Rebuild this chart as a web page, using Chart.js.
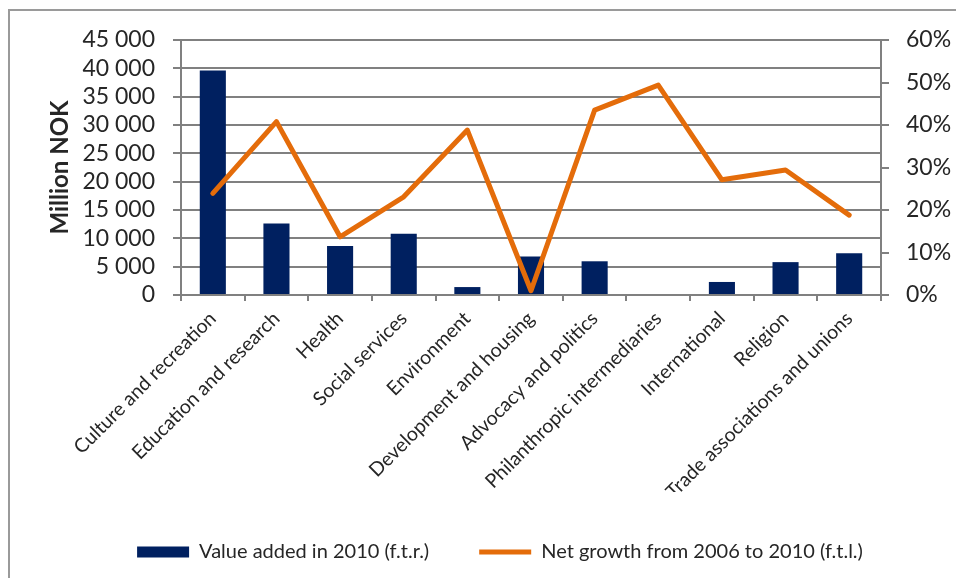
<!DOCTYPE html>
<html>
<head>
<meta charset="utf-8">
<script src="https://cdn.jsdelivr.net/npm/chart.js@4"></script>
<style>
  html, body { margin: 0; padding: 0; background: #ffffff; overflow: hidden; }
  #wrap { position: relative; width: 956px; height: 578px; }
  #frame { position: absolute; left: 8px; top: 9px; width: 1200px; height: 800px; border: 2px solid #9a9a9a; box-sizing: border-box; }
  canvas { position: absolute; left: 0; top: 0; }
</style>
</head>
<body>
<div id="wrap">
  <div id="frame"></div>
  <canvas id="c" width="956" height="578"></canvas>
</div>
<script>
const categories = [
  'Culture and recreation', 'Education and research', 'Health', 'Social services',
  'Environment', 'Development and housing', 'Advocacy and politics',
  'Philanthropic intermediaries', 'International', 'Religion', 'Trade associations and unions'
];
const valueAdded2010 = [39600, 12600, 8650, 10800, 1400, 6800, 5950, 0, 2300, 5800, 7350];
const netGrowthPct = [23.9, 40.8, 13.7, 23.1, 38.8, 1.0, 43.5, 49.4, 27.1, 29.4, 18.8];
const leftMax = 45000, leftStep = 5000;
const rightMax = 60, rightStep = 10;
const seriesNames = ['Value added in 2010 (f.t.r.)', 'Net growth from 2006 to 2010 (f.t.l.)'];
const axisTitle = 'Million NOK';

const NAVY = '#002060';
const ORANGE = '#E46C0A';
const GRID = '#808080';
const TEXT = '#262626';
const FONT = 'Lato, "Open Sans", sans-serif';

function fmtThousands(v) {
  return String(v).replace(/\B(?=(\d{3})+(?!\d))/g, ' ');
}

// Horizontal gridlines at the left axis tick values, drawn beneath the datasets
const gridPlugin = {
  id: 'hgrid',
  beforeDatasetsDraw(chart) {
    const ys = chart.scales.y;
    const area = chart.chartArea;
    const ctx = chart.ctx;
    ctx.save();
    ctx.fillStyle = GRID;
    for (let v = 0; v <= leftMax; v += leftStep) {
      const py = Math.round(ys.getPixelForValue(v));
      ctx.fillRect(area.left, py - 1, area.right - area.left, 2);
    }
    ctx.restore();
  }
};

new Chart(document.getElementById('c'), {
  data: {
    labels: categories,
    datasets: [
      {
        type: 'bar',
        label: seriesNames[0],
        data: valueAdded2010,
        yAxisID: 'y',
        backgroundColor: NAVY,
        borderWidth: 0,
        barPercentage: 0.41,
        categoryPercentage: 1.0,
        pointStyle: 'rect',
        order: 1
      },
      {
        type: 'line',
        label: seriesNames[1],
        data: netGrowthPct,
        yAxisID: 'y1',
        borderColor: ORANGE,
        backgroundColor: ORANGE,
        borderWidth: 5,
        pointRadius: 0,
        pointHoverRadius: 0,
        tension: 0,
        fill: false,
        borderCapStyle: 'round',
        borderJoinStyle: 'round',
        pointStyle: 'line',
        order: 0
      }
    ]
  },
  plugins: [gridPlugin],
  options: {
    responsive: false,
    animation: false,
    events: [],
    layout: { padding: { top: 40, left: 44, right: 0, bottom: 6 } },
    plugins: {
      tooltip: { enabled: false },
      legend: {
        position: 'bottom',
        labels: {
          usePointStyle: true,
          pointStyleWidth: 52,
          boxHeight: 11,
          padding: 50,
          color: TEXT,
          font: { family: FONT, size: 20 },
          sort: (a, b) => a.datasetIndex - b.datasetIndex
        }
      }
    },
    scales: {
      x: {
        type: 'category',
        offset: true,
        grid: { display: true, offset: true, drawOnChartArea: false, drawTicks: true, tickLength: 6, color: GRID, lineWidth: 2 },
        border: { display: true, color: GRID, width: 2 },
        ticks: { maxRotation: 45, minRotation: 45, autoSkip: false, padding: 6, color: TEXT, font: { family: FONT, size: 19.5 } },
        afterFit: (s) => { s.height = 197; }
      },
      y: {
        type: 'linear',
        position: 'left',
        min: 0, max: leftMax,
        grid: { display: true, drawOnChartArea: true, color: GRID, lineWidth: 2, tickLength: 8, drawTicks: true },
        border: { display: true, color: GRID, width: 2 },
        ticks: { stepSize: leftStep, autoSkip: false, padding: 18, color: TEXT, font: { family: FONT, size: 23 }, callback: (v) => fmtThousands(v) },
        title: { display: true, text: axisTitle, color: TEXT, font: { family: FONT, size: 24, weight: 'bold' }, padding: { top: 2, bottom: 0 } },
        afterFit: (s) => { s.width = 137; }
      },
      y1: {
        type: 'linear',
        position: 'right',
        min: 0, max: rightMax,
        grid: { display: true, drawOnChartArea: false, color: GRID, lineWidth: 2, tickLength: 8, drawTicks: true },
        border: { display: true, color: GRID, width: 2 },
        ticks: { stepSize: rightStep, autoSkip: false, padding: 17, color: TEXT, font: { family: FONT, size: 23 }, callback: (v) => v + '%' },
        afterFit: (s) => { s.width = 75; }
      }
    }
  }
});
</script>
</body>
</html>
